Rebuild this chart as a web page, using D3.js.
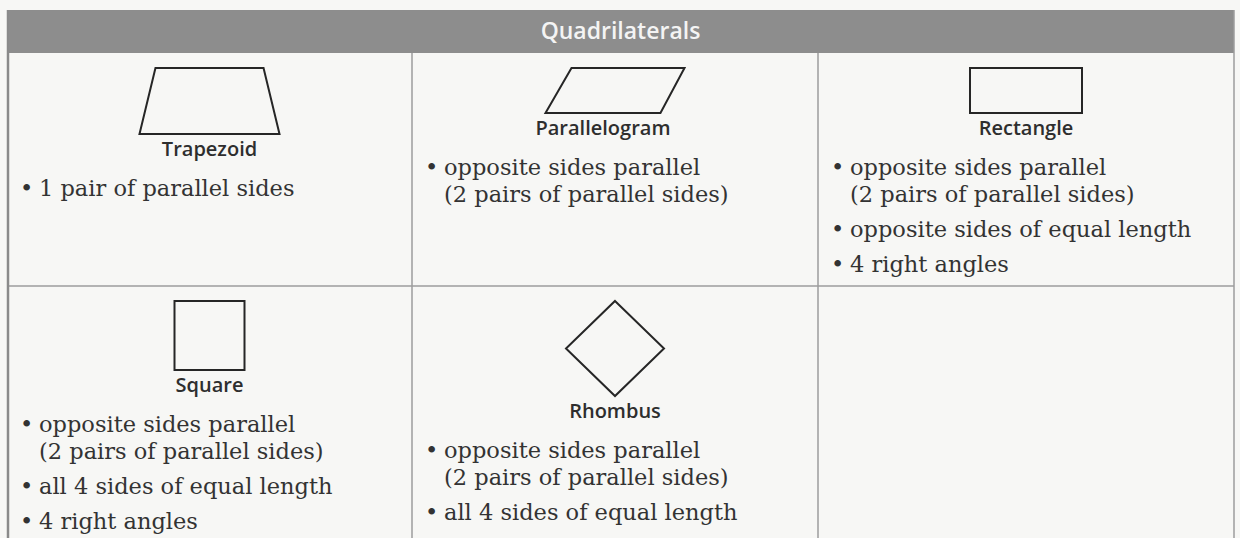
<!DOCTYPE html>
<html>
<head>
<meta charset="utf-8">
<script src="https://cdn.jsdelivr.net/npm/d3@7"></script>
<style>
  html, body { margin: 0; padding: 0; background: #f7f7f5; }
  svg { display: block; }
</style>
</head>
<body>
<div id="chart"></div>
<script>
const width = 1240,
  height = 538;

// table content
const title = "Quadrilaterals";
const shapeNames = ["Trapezoid", "Parallelogram", "Rectangle", "Square", "Rhombus"];
const shapeColumns = [0, 1, 2, 0, 1];
const shapeRows = [0, 0, 0, 1, 1];
// outlines in unit box coordinates (0..1)
const shapeOutlines = [
  [[0.114, 0], [0.886, 0], [1, 1], [0, 1]],
  [[0.187, 0], [1, 0], [0.827, 1], [0, 1]],
  [[0, 0], [1, 0], [1, 1], [0, 1]],
  [[0, 0], [1, 0], [1, 1], [0, 1]],
  [[0.5, 0], [1, 0.5], [0.5, 1], [0, 0.5]],
];
const shapeBullets = [
  [["1 pair of parallel sides"]],
  [["opposite sides parallel", "(2 pairs of parallel sides)"]],
  [
    ["opposite sides parallel", "(2 pairs of parallel sides)"],
    ["opposite sides of equal length"],
    ["4 right angles"],
  ],
  [
    ["opposite sides parallel", "(2 pairs of parallel sides)"],
    ["all 4 sides of equal length"],
    ["4 right angles"],
  ],
  [
    ["opposite sides parallel", "(2 pairs of parallel sides)"],
    ["all 4 sides of equal length"],
  ],
];

// layout
const colEdges = [7, 412, 818, 1234];
const headerTop = 10,
  rowEdges = [53, 286, 560];
const shapeSize = [[140, 66], [139, 45], [112, 45], [70, 69], [98, 95]];
const shapeTop = 15;
const bodyFont = "DejaVu Serif",
  bodySize = 22.5;

const svg = d3
  .select("#chart")
  .append("svg")
  .attr("width", width)
  .attr("height", height);

// header band
svg
  .append("rect")
  .attr("x", colEdges[0])
  .attr("y", headerTop)
  .attr("width", colEdges[3] - colEdges[0])
  .attr("height", rowEdges[0] - headerTop)
  .attr("fill", "#8d8d8d");

svg
  .append("text")
  .attr("x", (colEdges[0] + colEdges[3]) / 2)
  .attr("y", headerTop + 29)
  .attr("text-anchor", "middle")
  .attr("font-family", "Open Sans")
  .attr("font-weight", 600)
  .attr("font-size", 23)
  .attr("fill", "#f4f4f4")
  .text(title);

// grid lines
const grid = svg.append("g").attr("stroke", "#9c9c9c").attr("stroke-width", 1.5);
grid
  .selectAll("line.v")
  .data(colEdges.slice(1, 3))
  .enter()
  .append("line")
  .attr("x1", (d) => d)
  .attr("x2", (d) => d)
  .attr("y1", rowEdges[0])
  .attr("y2", height);
grid
  .append("line")
  .attr("x1", colEdges[0])
  .attr("x2", colEdges[3])
  .attr("y1", rowEdges[1])
  .attr("y2", rowEdges[1]);
grid
  .append("line")
  .attr("x1", colEdges[0] + 1)
  .attr("x2", colEdges[0] + 1)
  .attr("y1", headerTop)
  .attr("y2", height)
  .attr("stroke", "#8a8a8a")
  .attr("stroke-width", 2.5);
grid
  .append("line")
  .attr("x1", colEdges[3])
  .attr("x2", colEdges[3])
  .attr("y1", headerTop)
  .attr("y2", height);

// cells
const line = d3.line();

shapeNames.forEach((name, i) => {
  const c = shapeColumns[i],
    r = shapeRows[i];
  const cx = (colEdges[c] + colEdges[c + 1]) / 2;
  const [w, h] = shapeSize[i];
  const top = rowEdges[r] + shapeTop;
  const x = d3.scaleLinear().domain([0, 1]).range([cx - w / 2, cx + w / 2]);
  const y = d3.scaleLinear().domain([0, 1]).range([top, top + h]);

  const pts = shapeOutlines[i];
  svg
    .append("path")
    .attr("d", line(pts.map((p) => [x(p[0]), y(p[1])])) + "Z")
    .attr("fill", "none")
    .attr("stroke", "#262626")
    .attr("stroke-width", 2);

  // label sits under the middle of the bottom edge
  const bottom = pts.filter((p) => p[1] === 1);
  const labelY = y(1) + 22;
  svg
    .append("text")
    .attr("x", x(d3.mean(bottom, (p) => p[0])))
    .attr("y", labelY)
    .attr("text-anchor", "middle")
    .attr("font-family", "Open Sans")
    .attr("font-weight", 600)
    .attr("font-size", 20)
    .attr("fill", "#2e2e2e")
    .text(name);

  // bullet list
  let yy = labelY + 40;
  const left = colEdges[c];
  shapeBullets[i].forEach((item, k) => {
    if (k > 0) yy += 35;
    svg
      .append("text")
      .attr("x", left + 13)
      .attr("y", yy)
      .attr("font-family", bodyFont)
      .attr("font-size", bodySize)
      .attr("fill", "#333")
      .text("•");
    item.forEach((t, j) => {
      if (j > 0) yy += 27;
      svg
        .append("text")
        .attr("x", left + 32)
        .attr("y", yy)
        .attr("font-family", bodyFont)
        .attr("font-size", bodySize)
        .attr("fill", "#333")
        .text(t);
    });
  });
});
</script>
</body>
</html>
